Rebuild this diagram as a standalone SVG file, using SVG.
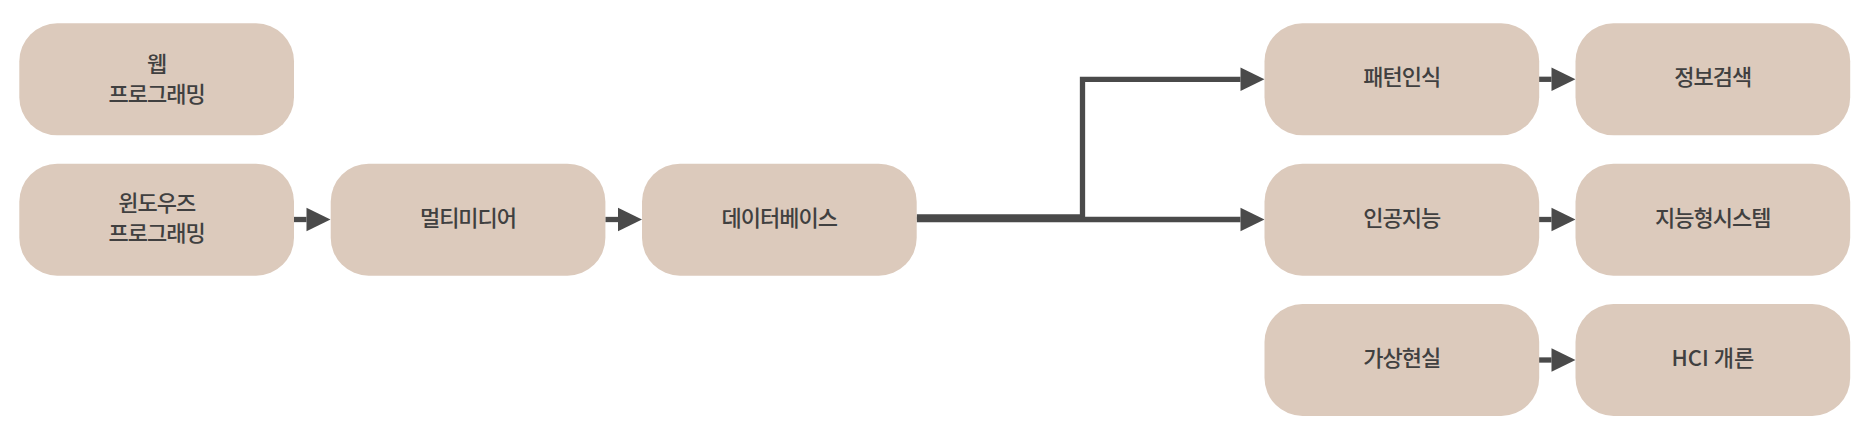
<svg xmlns="http://www.w3.org/2000/svg" width="1874" height="442" viewBox="0 0 1874 442">
  <style>
    .node rect { fill: #dccabc; }
    .node text { font-family: "Noto Sans CJK KR", "Noto Sans", sans-serif; font-size: 22px; font-weight: 500; fill: #404040; text-anchor: middle; letter-spacing: -1px; }
    .conn { fill: none; stroke: #4a4a4a; stroke-width: 5.3; }
    .head { fill: #4a4a4a; }
  </style>
  <defs>
    <marker id="arrow" markerUnits="userSpaceOnUse" markerWidth="25" markerHeight="24" refX="0" refY="11.7" orient="auto" overflow="visible">
      <path class="head" d="M0,0 L24,11.7 L0,23.4 Z"/>
    </marker>
  </defs>

  <g id="connectors">
    <path class="conn" d="M294,219.5 H306.5" marker-end="url(#arrow)"/>
    <path class="conn" d="M605.3,219.5 H618" marker-end="url(#arrow)"/>
    <path class="conn" d="M916.7,216.8 H1082.5 V79.3 H1240.5" marker-end="url(#arrow)"/>
    <path class="conn" d="M916.7,219.5 H1240.5" marker-end="url(#arrow)"/>
    <path class="conn" d="M1539,79.3 H1551.5" marker-end="url(#arrow)"/>
    <path class="conn" d="M1539,219.5 H1551.5" marker-end="url(#arrow)"/>
    <path class="conn" d="M1539,360 H1551.5" marker-end="url(#arrow)"/>
  </g>

  <g id="web" class="node">
    <rect x="19.3" y="23.3" width="274.7" height="112" rx="38" ry="38"/>
    <text x="156.7" y="72">웹</text>
    <text x="156.7" y="102">프로그래밍</text>
  </g>
  <g id="windows" class="node">
    <rect x="19.3" y="163.7" width="274.7" height="112" rx="38" ry="38"/>
    <text x="156.7" y="211">윈도우즈</text>
    <text x="156.7" y="241">프로그래밍</text>
  </g>
  <g id="multimedia" class="node">
    <rect x="330.7" y="163.7" width="274.7" height="112" rx="38" ry="38"/>
    <text x="468" y="225.5">멀티미디어</text>
  </g>
  <g id="database" class="node">
    <rect x="642" y="163.7" width="274.7" height="112" rx="38" ry="38"/>
    <text x="779.3" y="225.5">데이터베이스</text>
  </g>
  <g id="pattern" class="node">
    <rect x="1264.5" y="23.3" width="274.7" height="112" rx="38" ry="38"/>
    <text x="1401.8" y="85">패턴인식</text>
  </g>
  <g id="ai" class="node">
    <rect x="1264.5" y="163.7" width="274.7" height="112" rx="38" ry="38"/>
    <text x="1401.8" y="225.5">인공지능</text>
  </g>
  <g id="vr" class="node">
    <rect x="1264.5" y="304" width="274.7" height="112" rx="38" ry="38"/>
    <text x="1401.8" y="366">가상현실</text>
  </g>
  <g id="ir" class="node">
    <rect x="1575.5" y="23.3" width="274.7" height="112" rx="38" ry="38"/>
    <text x="1712.8" y="85">정보검색</text>
  </g>
  <g id="intelligent" class="node">
    <rect x="1575.5" y="163.7" width="274.7" height="112" rx="38" ry="38"/>
    <text x="1712.8" y="225.5">지능형시스템</text>
  </g>
  <g id="hci" class="node">
    <rect x="1575.5" y="304" width="274.7" height="112" rx="38" ry="38"/>
    <text x="1712.8" y="366" style="letter-spacing:0">HCI 개론</text>
  </g>
</svg>
